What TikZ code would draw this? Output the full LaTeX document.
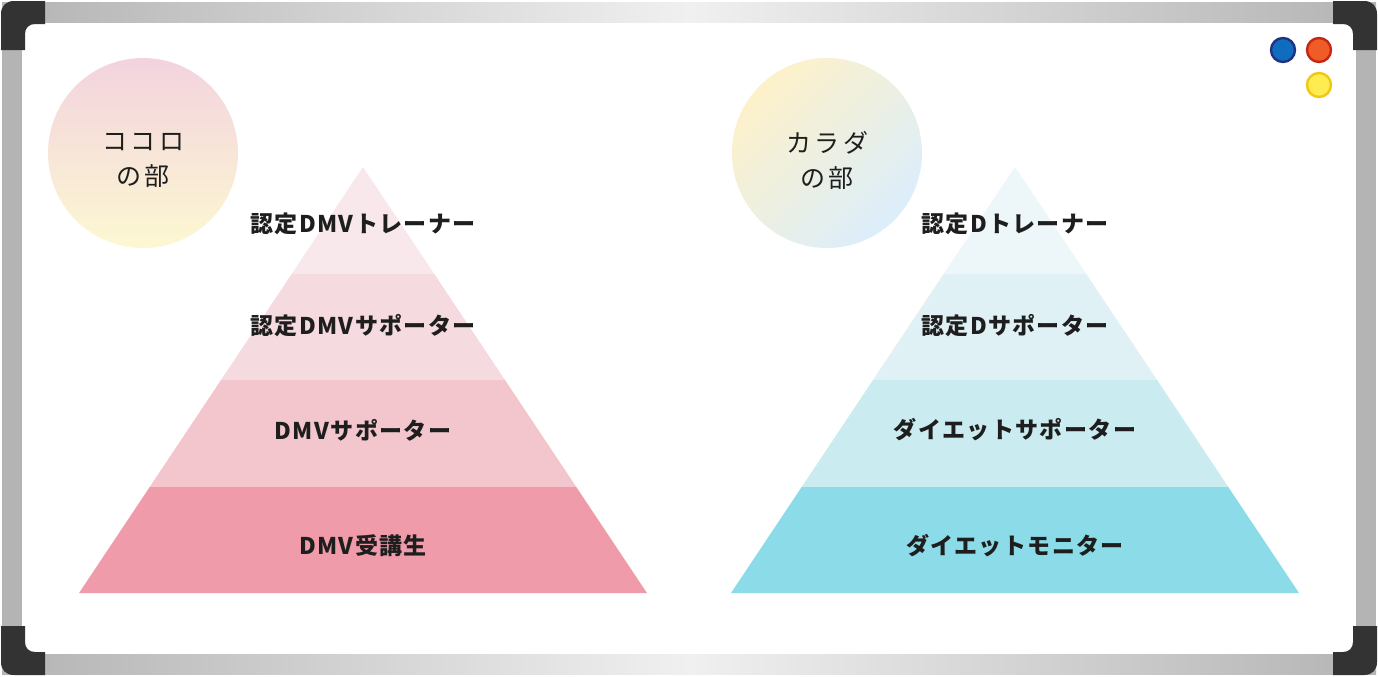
\documentclass[tikz,border=0pt]{standalone}
\usepackage{fontspec}
\newfontfamily\jpfont{Noto Sans CJK JP}[LetterSpace=6]
\newfontfamily\jpwide{Noto Sans CJK JP}[LetterSpace=14]

\definecolor{frameDark}{HTML}{333333}
\definecolor{frameGrey}{HTML}{B4B4B4}
\definecolor{frameLight}{HTML}{F0F0F0}
\definecolor{inkBlack}{HTML}{1E1E1E}
\definecolor{pinkA}{HTML}{F9E8EB}
\definecolor{pinkB}{HTML}{F5DBE0}
\definecolor{pinkC}{HTML}{F3C6CE}
\definecolor{pinkD}{HTML}{F09BAA}
\definecolor{blueA}{HTML}{EDF6F8}
\definecolor{blueB}{HTML}{E0F1F5}
\definecolor{blueC}{HTML}{CAEBF0}
\definecolor{blueD}{HTML}{8CDBE9}
\definecolor{bubblePink}{HTML}{F3D3DE}
\definecolor{bubbleYellow}{HTML}{FCF8D2}
\definecolor{bubbleCream}{HTML}{FDF1CA}
\definecolor{bubbleBlue}{HTML}{DBEEFB}

\tikzset{
  layerlabel/.style={font=\jpfont\bfseries\fontsize{11.5}{14}\selectfont,
    text=inkBlack, inner sep=0pt},
  bubbletext/.style={font=\jpwide\fontsize{12.5}{17.5}\selectfont,
    align=center, text=inkBlack, inner sep=0pt},
  magnet/.style={line width=1.2pt},
}

\begin{document}
\begin{tikzpicture}[x=0.5pt,y=-0.5pt]
  \useasboundingbox (0,0) rectangle (1378,676);
  \fill[white] (0,0) rectangle (1378,676);

  % frame bars
  \shade[left color=frameGrey, right color=frameGrey, middle color=frameLight]
    (2,2) rectangle (1376,22);
  \shade[left color=frameGrey, right color=frameGrey, middle color=frameLight]
    (2,654) rectangle (1376,674);
  \fill[frameGrey] (2,2) rectangle (22,674);
  \fill[frameGrey] (1356,2) rectangle (1376,674);

  % corner pieces
  \foreach \sx/\sy in {1/1,-1/1,1/-1,-1/-1}{
    \begin{scope}[shift={(689,338)},xscale=\sx,yscale=\sy,shift={(-689,-338)}]
      \fill[frameDark] (1,50) -- (1,14) .. controls (1,6) and (6,1) .. (14,1)
        -- (45,1) -- (45,24) -- (35,24) .. controls (29,24) and (25,28) .. (25,34)
        -- (25,50) -- cycle;
    \end{scope}
  }

  % magnets
  \filldraw[magnet, fill={rgb,255:red,16;green,108;blue,190}, draw={rgb,255:red,28;green,52;blue,130}]
    (1283,50) circle[radius=12];
  \filldraw[magnet, fill={rgb,255:red,240;green,92;blue,40}, draw={rgb,255:red,196;green,40;blue,20}]
    (1319,50) circle[radius=12];
  \filldraw[magnet, fill={rgb,255:red,255;green,236;blue,80}, draw={rgb,255:red,240;green,200;blue,20}]
    (1319,85) circle[radius=12];

  % bubbles
  \shade[top color=bubblePink, bottom color=bubbleYellow] (143,153) circle[radius=95];
  \shade[top color=bubbleCream, bottom color=bubbleBlue, shading angle=45]
    (827,153) circle[radius=95];
  \node[bubbletext] (kokoro) at (143,160) {ココロ\\の部};
  \node[bubbletext] (karada) at (827,160) {カラダ\\の部};

  % pyramids
  \foreach \cx/\pal in {363/pink,1015/blue}{
    \foreach \ya/\yb/\k in {167/274/A,274/380/B,380/487/C,487/593/D}{
      \fill[\pal\k] ({\cx-(\ya-167)/426*284},\ya) -- ({\cx+(\ya-167)/426*284},\ya)
        -- ({\cx+(\yb-167)/426*284},\yb) -- ({\cx-(\yb-167)/426*284},\yb) -- cycle;
    }
  }

  \node[layerlabel] (kokoroA) at (363,224) {認定DMVトレーナー};
  \node[layerlabel] (kokoroB) at (363,326) {認定DMVサポーター};
  \node[layerlabel] (kokoroC) at (363,430) {DMVサポーター};
  \node[layerlabel] (kokoroD) at (363,546) {DMV受講生};

  \node[layerlabel] (karadaA) at (1015,224) {認定Dトレーナー};
  \node[layerlabel] (karadaB) at (1015,326) {認定Dサポーター};
  \node[layerlabel] (karadaC) at (1015,430) {ダイエットサポーター};
  \node[layerlabel] (karadaD) at (1015,546) {ダイエットモニター};
\end{tikzpicture}
\end{document}
